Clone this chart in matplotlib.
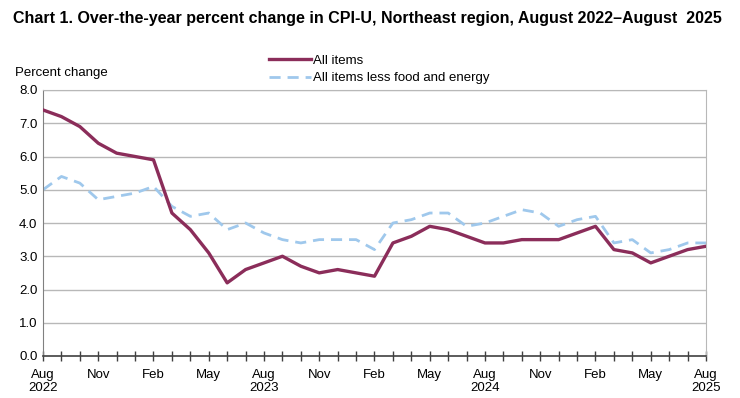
import matplotlib
matplotlib.use("Agg")
from matplotlib import pyplot as plt

plt.rcParams['font.family'] = ['Liberation Sans', 'DejaVu Sans']

# Over-the-year percent change, Aug 2022 .. Aug 2025 (monthly)
all_items = [7.4, 7.2, 6.9, 6.4, 6.1, 6.0, 5.9, 4.3, 3.8, 3.1, 2.2, 2.6,
             2.8, 3.0, 2.7, 2.5, 2.6, 2.5, 2.4, 3.4, 3.6, 3.9, 3.8, 3.6,
             3.4, 3.4, 3.5, 3.5, 3.5, 3.7, 3.9, 3.2, 3.1, 2.8, 3.0, 3.2,
             3.3]
core_items = [5.0, 5.4, 5.2, 4.7, 4.8, 4.9, 5.1, 4.5, 4.2, 4.3, 3.8, 4.0,
              3.7, 3.5, 3.4, 3.5, 3.5, 3.5, 3.2, 4.0, 4.1, 4.3, 4.3, 3.9,
              4.0, 4.2, 4.4, 4.3, 3.9, 4.1, 4.2, 3.4, 3.5, 3.1, 3.2, 3.4,
              3.4]
tick_labels = ["Aug\n2022", "Nov", "Feb", "May", "Aug\n2023", "Nov", "Feb", "May",
               "Aug\n2024", "Nov", "Feb", "May", "Aug\n2025"]
y_ticks = [0, 1, 2, 3, 4, 5, 6, 7, 8]

months = list(range(len(all_items)))

fig = plt.figure(figsize=(7.4, 3.98), dpi=100)
ax = fig.add_axes([43 / 740, 1 - 356 / 398, (706 - 43) / 740, (356 - 90) / 398])

for y in y_ticks[1:]:
    ax.axhline(y, color='#b8b8b8', lw=1.0, zorder=1)

ax.plot(months, all_items, color='#8b2d5a', lw=2.4, label='All items', zorder=3)
ax.plot(months, core_items, color='#9fc8ec', lw=2.0, ls=(0, (4, 2.5)),
        label='All items less food and energy', zorder=2)

ax.set_xlim(0, len(all_items) - 1)
ax.set_ylim(0, 8)
ax.set_yticks(y_ticks)
ax.set_yticklabels(["%.1f" % v for v in y_ticks], fontsize=9.5)
ax.set_xticks(months, minor=True)
ax.set_xticks(months[::3])
ax.set_xticklabels(tick_labels, fontsize=9.5, linespacing=1.05)

ax.tick_params(axis='x', which='both', direction='inout', length=7, width=1, color='#404040', pad=6)
ax.tick_params(axis='y', length=0, pad=4)

for side in ['top', 'right']:
    ax.spines[side].set_color('#b8b8b8')
ax.spines['left'].set_color('#808080')
ax.spines['bottom'].set_color('#404040')
ax.spines['bottom'].set_linewidth(1.2)

fig.text(13 / 740, 1 - 18 / 398, "Chart 1. Over-the-year percent change in CPI-U, Northeast region, August 2022\u2013August  2025",
         fontsize=11.5, fontweight='bold', va='center', ha='left')
fig.text(15 / 740, 1 - 73 / 398, "Percent change", fontsize=9.5, va='center', ha='left')

ax.legend(loc='lower left', bbox_to_anchor=(262 / 740, 1 - 91 / 398), bbox_transform=fig.transFigure,
          frameon=False, fontsize=9.5, handlelength=3.2, handletextpad=0.2,
          borderpad=0, labelspacing=0.4)

fig.savefig("out.png", dpi=100)
